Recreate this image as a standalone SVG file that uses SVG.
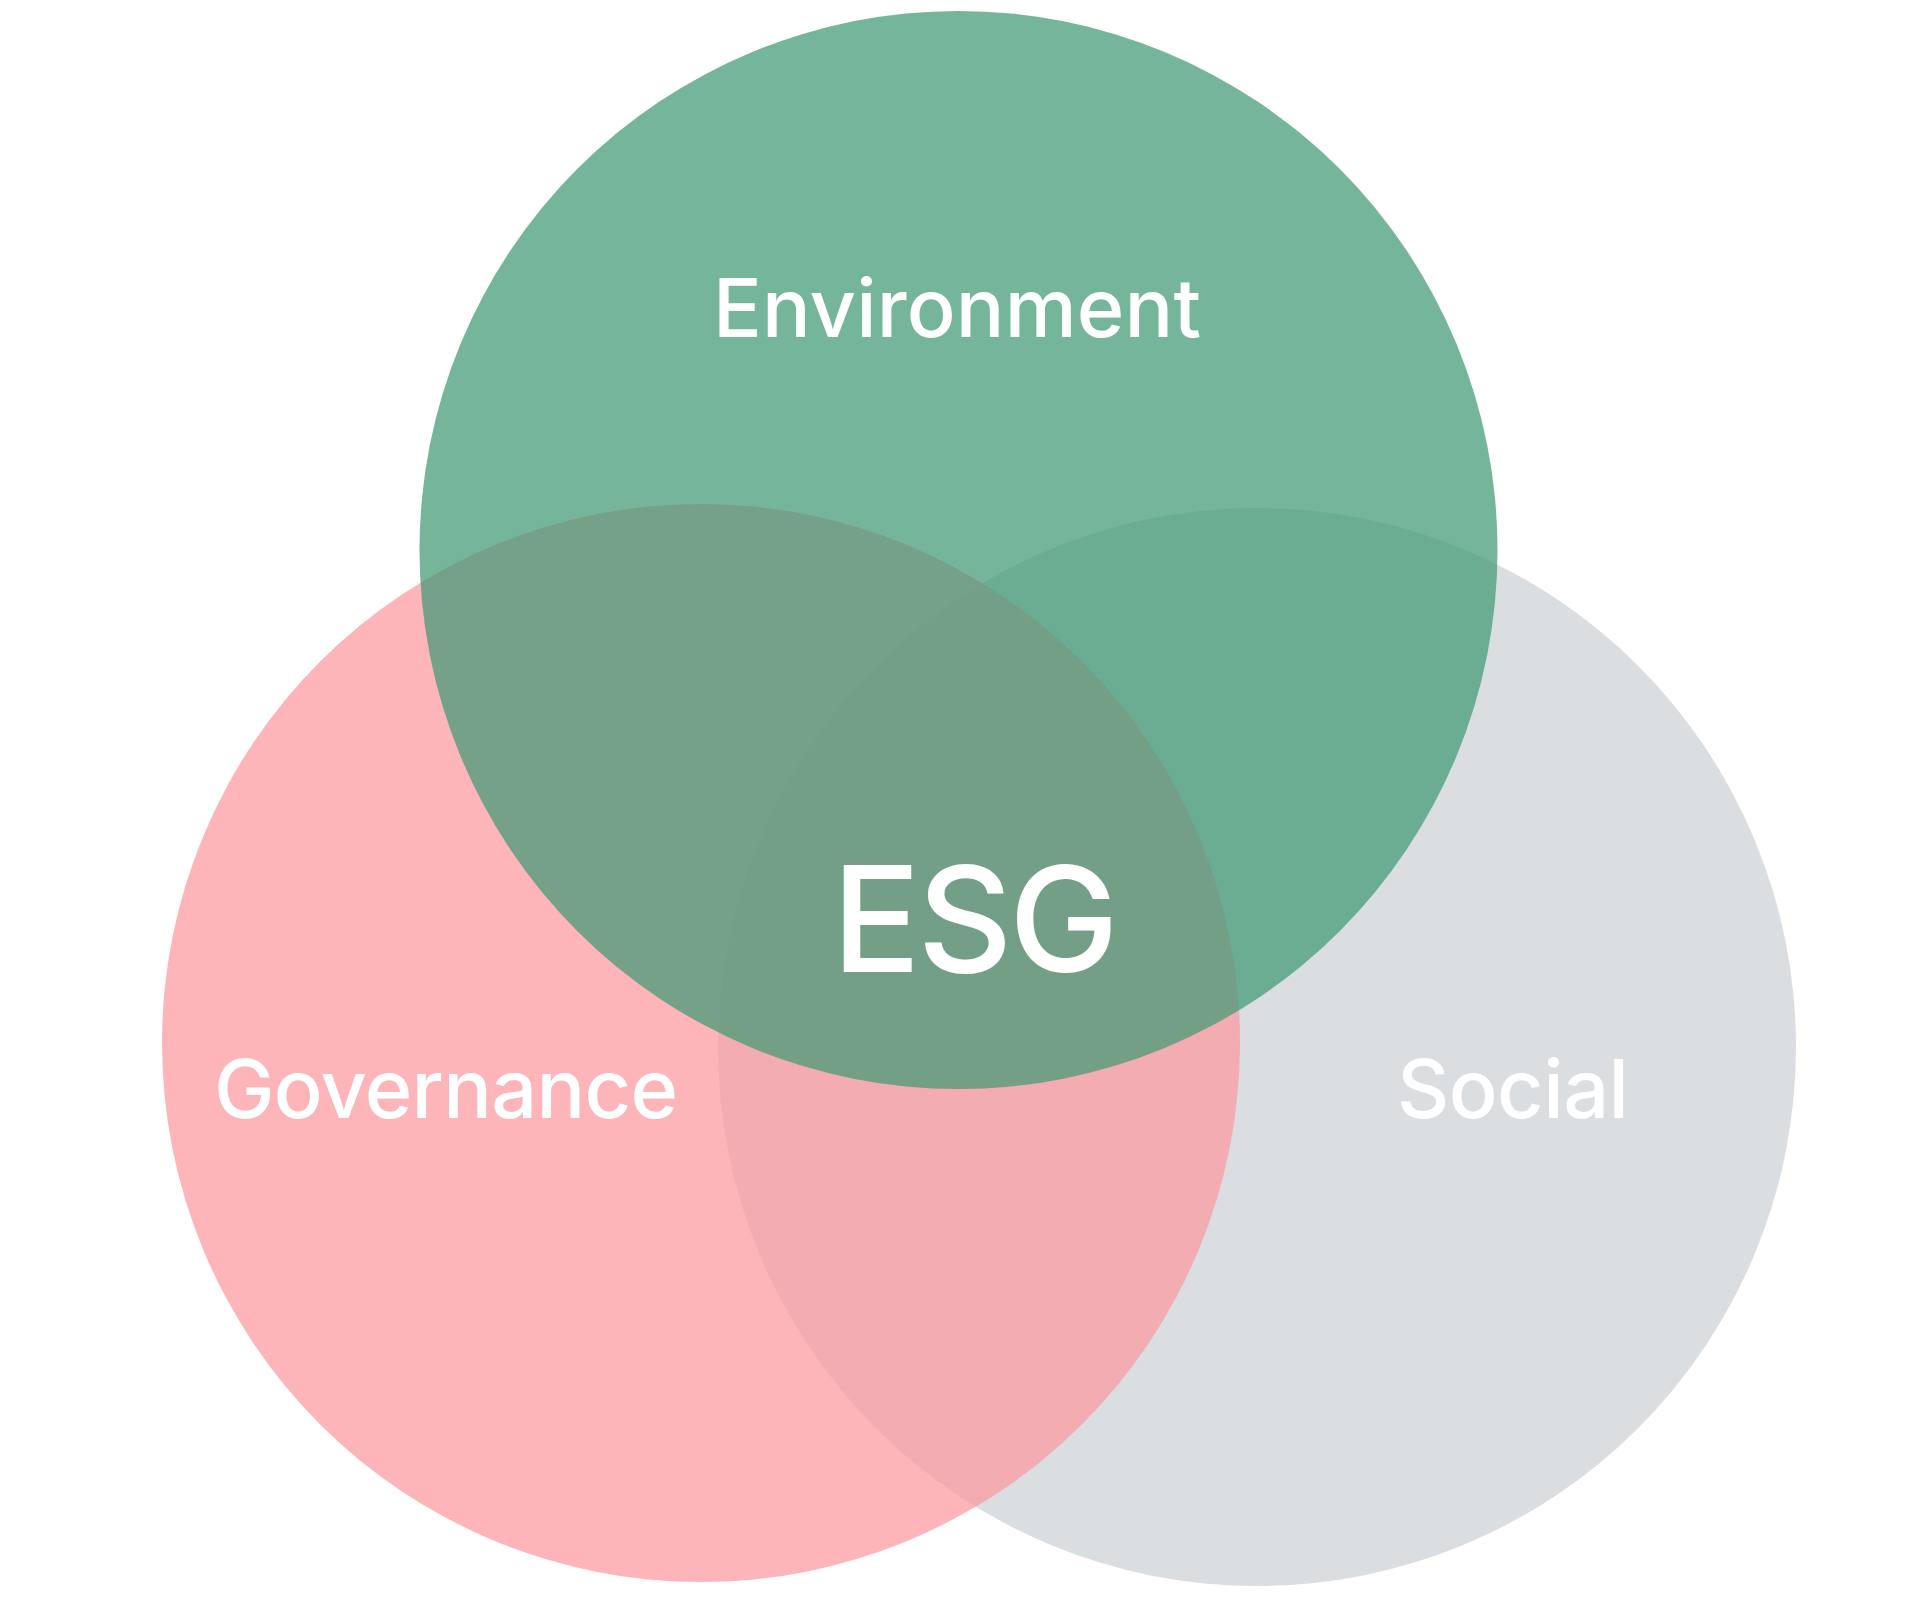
<svg xmlns="http://www.w3.org/2000/svg" width="1917" height="1598" viewBox="0 0 1917 1598">
<style>
.lbl{font-family:Inter,Roboto,"Liberation Sans",sans-serif;fill:#ffffff;font-weight:500}
</style>
<rect width="1917" height="1598" fill="#ffffff"/>
<g id="social"><circle cx="1257" cy="1047" r="539" fill="#dbdee1"/></g>
<g id="governance"><circle cx="701" cy="1043" r="539" fill="#fc989e" fill-opacity="0.72"/></g>
<g id="environment"><circle cx="958.5" cy="550" r="539" fill="#409a74" fill-opacity="0.72"/></g>
<g id="labels">
<text class="lbl" x="713" y="337" font-size="81" textLength="488" lengthAdjust="spacing">Environment</text>
<text class="lbl" x="214" y="1118" font-size="81" textLength="464" lengthAdjust="spacing">Governance</text>
<text class="lbl" x="1397" y="1118" font-size="81" textLength="232" lengthAdjust="spacing">Social</text>
<text class="lbl" x="832" y="972" font-size="147" textLength="287" lengthAdjust="spacing">ESG</text>
</g>
</svg>
